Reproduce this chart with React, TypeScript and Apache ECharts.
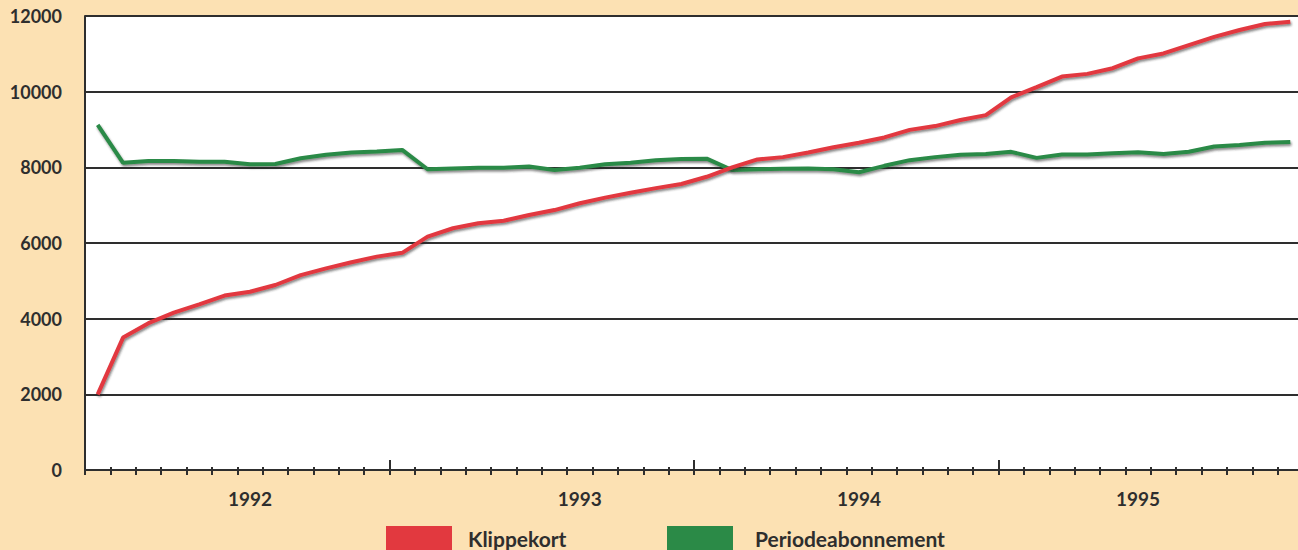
import React, { useEffect, useRef } from "react";
import * as echarts from "echarts";

const years = ["1992", "1993", "1994", "1995"];
const monthNames = ["jan", "feb", "mar", "apr", "maj", "jun", "jul", "aug", "sep", "okt", "nov", "dec"];
const categories = years.flatMap((y) => monthNames.map((m) => `${m} ${y}`));
// category index under which each year label is printed
const yearLabelIndex = [6, 19, 30, 41];

const yTicks = { min: 0, max: 12000, interval: 2000 };

const klippekort = [
  2000, 3500, 3880, 4160, 4380, 4610, 4710, 4890, 5150, 5330, 5490, 5640,
  5740, 6170, 6390, 6520, 6590, 6740, 6870, 7050, 7200, 7330, 7450, 7560,
  7750, 8000, 8210, 8270, 8390, 8530, 8650, 8790, 8990, 9090, 9250, 9380,
  9850, 10120, 10400, 10470, 10620, 10880, 11010, 11230, 11450, 11630, 11790, 11850,
];
const periodeabonnement = [
  9120, 8120, 8170, 8170, 8150, 8150, 8080, 8090, 8240, 8330, 8390, 8420,
  8460, 7950, 7970, 7990, 7990, 8020, 7930, 7990, 8080, 8120, 8190, 8220,
  8230, 7930, 7950, 7960, 7970, 7950, 7870, 8040, 8190, 8270, 8330, 8350,
  8410, 8250, 8340, 8340, 8370, 8400, 8350, 8410, 8550, 8590, 8650, 8670,
];

const INK = "#2e2e2e";
const RED = "#e2393f";
const GREEN = "#2b8a47";
const FONT = "Lato";

export default function App() {
  const ref = useRef<HTMLDivElement>(null);
  useEffect(() => {
    if (!ref.current) return;
    const chart = echarts.init(ref.current, undefined, { renderer: "svg" });
    const shadow = {
      shadowColor: "rgba(40,40,40,0.55)",
      shadowBlur: 2,
      shadowOffsetX: 1,
      shadowOffsetY: 2,
    };
    const baseX = {
      type: "category" as const,
      data: categories,
      boundaryGap: true,
      position: "bottom" as const,
      gridIndex: 0,
    };
    const legendText = { fontFamily: FONT, fontWeight: "bold", fontSize: 21, color: INK };
    chart.setOption({
      animation: false,
      backgroundColor: "#fce1b3",
      textStyle: { fontFamily: FONT },
      grid: {
        left: 85,
        right: 7,
        top: 16,
        bottom: 80,
        show: true,
        backgroundColor: "#ffffff",
        borderWidth: 0,
      },
      legend: [
        {
          data: ["Klippekort"],
          left: 386,
          top: 526,
          padding: 0,
          icon: "rect",
          itemWidth: 66,
          itemHeight: 24,
          itemStyle: { shadowBlur: 0, shadowOffsetX: 0, shadowOffsetY: 0 },
          textStyle: { ...legendText, padding: [0, 0, 0, 11] },
        },
        {
          data: ["Periodeabonnement"],
          left: 667,
          top: 526,
          padding: 0,
          icon: "rect",
          itemWidth: 66,
          itemHeight: 24,
          itemStyle: { shadowBlur: 0, shadowOffsetX: 0, shadowOffsetY: 0 },
          textStyle: { ...legendText, padding: [0, 0, 0, 17] },
        },
      ],
      xAxis: [
        {
          ...baseX,
          axisLine: { show: true, lineStyle: { color: INK, width: 2 } },
          axisTick: { show: true, interval: 0, length: 5, lineStyle: { color: INK, width: 2 } },
          axisLabel: {
            interval: (i: number) => yearLabelIndex.includes(i),
            formatter: (v: string) => v.split(" ")[1],
            fontFamily: FONT,
            fontWeight: "bold",
            fontSize: 19,
            color: INK,
            margin: 19,
          },
          splitLine: { show: false },
        },
        {
          ...baseX,
          axisLine: { show: false },
          axisTick: { show: true, inside: true, interval: 0, length: 3, lineStyle: { color: INK, width: 2 } },
          axisLabel: { show: false },
          splitLine: { show: false },
        },
        {
          ...baseX,
          axisLine: { show: false },
          axisTick: {
            show: true,
            inside: true,
            interval: (i: number) => i % 12 === 0,
            length: 10,
            lineStyle: { color: INK, width: 2 },
          },
          axisLabel: { show: false },
          splitLine: { show: false },
        },
      ],
      yAxis: {
        type: "value",
        ...yTicks,
        axisLine: { show: true, lineStyle: { color: INK, width: 2 } },
        axisTick: { show: false },
        axisLabel: {
          formatter: (v: number) => String(v),
          fontFamily: FONT,
          fontWeight: "bold",
          fontSize: 18,
          color: INK,
          margin: 23,
        },
        splitLine: { show: true, lineStyle: { color: INK, width: 2 } },
      },
      series: [
        {
          name: "Periodeabonnement",
          type: "line",
          xAxisIndex: 0,
          data: periodeabonnement,
          symbol: "none",
          z: 3,
          itemStyle: { color: GREEN },
          lineStyle: { color: GREEN, width: 4, ...shadow },
        },
        {
          name: "Klippekort",
          type: "line",
          xAxisIndex: 0,
          data: klippekort,
          symbol: "none",
          z: 4,
          itemStyle: { color: RED },
          lineStyle: { color: RED, width: 4, ...shadow },
        },
      ],
    });
    return () => chart.dispose();
  }, []);
  return (
    <div
      ref={ref}
      style={{ position: "fixed", left: 0, top: 0, width: 1310, height: 550, overflow: "hidden" }}
    />
  );
}
